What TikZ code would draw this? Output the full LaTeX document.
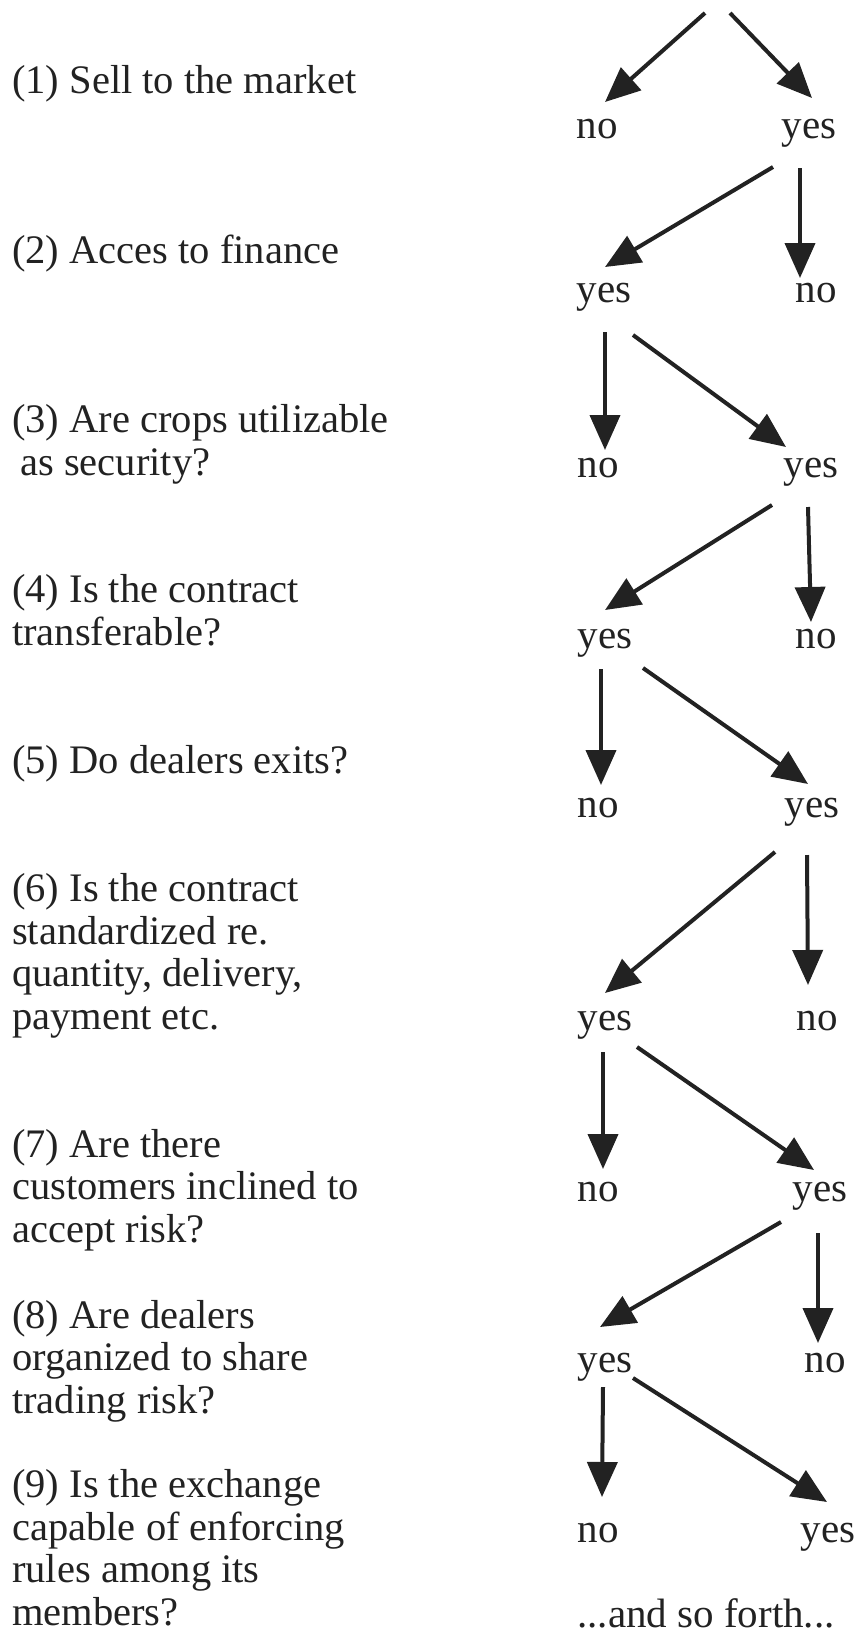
\documentclass[tikz,border=0pt]{standalone}
\usepackage{fontspec}
\setmainfont{Liberation Serif}
\usetikzlibrary{arrows.meta,calc}
\definecolor{ink}{HTML}{222222}
\begin{document}
\begin{tikzpicture}[x=1pt,y=-1pt,
  lbl/.style={font=\fontsize{41}{42.5}\selectfont, inner sep=0pt, anchor=base, text=ink},
  qtext/.style={font=\fontsize{40.5}{42.5}\selectfont, inner sep=0pt, anchor=base west, align=left, text=ink},
  arr/.style={draw=ink, line width=4pt, -{Triangle[length=35pt,width=30pt]}}]
\useasboundingbox (0,0) rectangle (857,1633);
% questions (anchor = baseline of the last line)
\node[qtext] (q1) at (12,93) {(1) Sell to the market};
\node[qtext] (q2) at (12,263) {(2) Acces to finance};
\node[qtext] (q3) at (12,475) {(3) Are crops utilizable\\\hspace*{0.2em}as security?};
\node[qtext] (q4) at (12,645) {(4) Is the contract\\transferable?};
\node[qtext] (q5) at (12,773) {(5) Do dealers exits?};
\node[qtext] (q6) at (12,1029) {(6) Is the contract\\standardized re.\\quantity, delivery,\\payment etc.};
\node[qtext] (q7) at (12,1242) {(7) Are there\\customers inclined to\\accept risk?};
\node[qtext] (q8) at (12,1413) {(8) Are dealers\\organized to share\\trading risk?};
\node[qtext] (q9) at (12,1625) {(9) Is the exchange\\capable of enforcing\\rules among its\\members?};
% answers
\node[lbl] (n1) at (597,138) {no};
\node[lbl] (y1) at (809,138) {yes};
\node[lbl] (y2) at (604,302) {yes};
\node[lbl] (n2) at (816,302) {no};
\node[lbl] (n3) at (598,477) {no};
\node[lbl] (y3) at (811,477) {yes};
\node[lbl] (y4) at (605,648) {yes};
\node[lbl] (n4) at (816,648) {no};
\node[lbl] (n5) at (598,817) {no};
\node[lbl] (y5) at (812,817) {yes};
\node[lbl] (y6) at (605,1030) {yes};
\node[lbl] (n6) at (817,1030) {no};
\node[lbl] (n7) at (598,1201) {no};
\node[lbl] (y7) at (820,1201) {yes};
\node[lbl] (y8) at (605,1372) {yes};
\node[lbl] (n8) at (825,1372) {no};
\node[lbl] (n9) at (598,1542) {no};
\node[lbl] (y9) at (828,1542) {yes};
\node[lbl] (forth) at (706,1627) {...and so forth...};
% free ends at the top
\coordinate (top1) at (705,13);
\coordinate (top2) at (730,13);
% connectors
\draw[arr] (top1) -- ($(n1.base)+(8,-36)$);
\draw[arr] (top2) -- ($(y1.base)+(3,-40)$);
\draw[arr] ($(y1.base)+(-36,29)$) -- ($(y2.base)+(1,-35)$);
\draw[arr] ($(y1.base)+(-9,30)$) -- ($(n2.base)+(-16,-24)$);
\draw[arr] ($(y2.base)+(1,30)$) -- ($(n3.base)+(7,-27)$);
\draw[arr] ($(y2.base)+(29,33)$) -- ($(y3.base)+(-25,-30)$);
\draw[arr] ($(y3.base)+(-39,28)$) -- ($(y4.base)+(0,-38)$);
\draw[arr] ($(y3.base)+(-3,30)$) -- ($(n4.base)+(-5,-26)$);
\draw[arr] ($(y4.base)+(-4,21)$) -- ($(n5.base)+(3,-32)$);
\draw[arr] ($(y4.base)+(38,20)$) -- ($(y5.base)+(-4,-33)$);
\draw[arr] ($(y5.base)+(-37,35)$) -- ($(y6.base)+(0,-37)$);
\draw[arr] ($(y5.base)+(-5,38)$) -- ($(n6.base)+(-9,-45)$);
\draw[arr] ($(y6.base)+(-2,22)$) -- ($(n7.base)+(5,-32)$);
\draw[arr] ($(y6.base)+(32,17)$) -- ($(y7.base)+(-6,-31)$);
\draw[arr] ($(y7.base)+(-39,21)$) -- ($(y8.base)+(-5,-45)$);
\draw[arr] ($(y7.base)+(-2,32)$) -- ($(n8.base)+(-7,-29)$);
\draw[arr] ($(y8.base)+(-2,15)$) -- ($(n9.base)+(4,-45)$);
\draw[arr] ($(y8.base)+(28,6)$) -- ($(y9.base)+(-1,-40)$);
\end{tikzpicture}
\end{document}
